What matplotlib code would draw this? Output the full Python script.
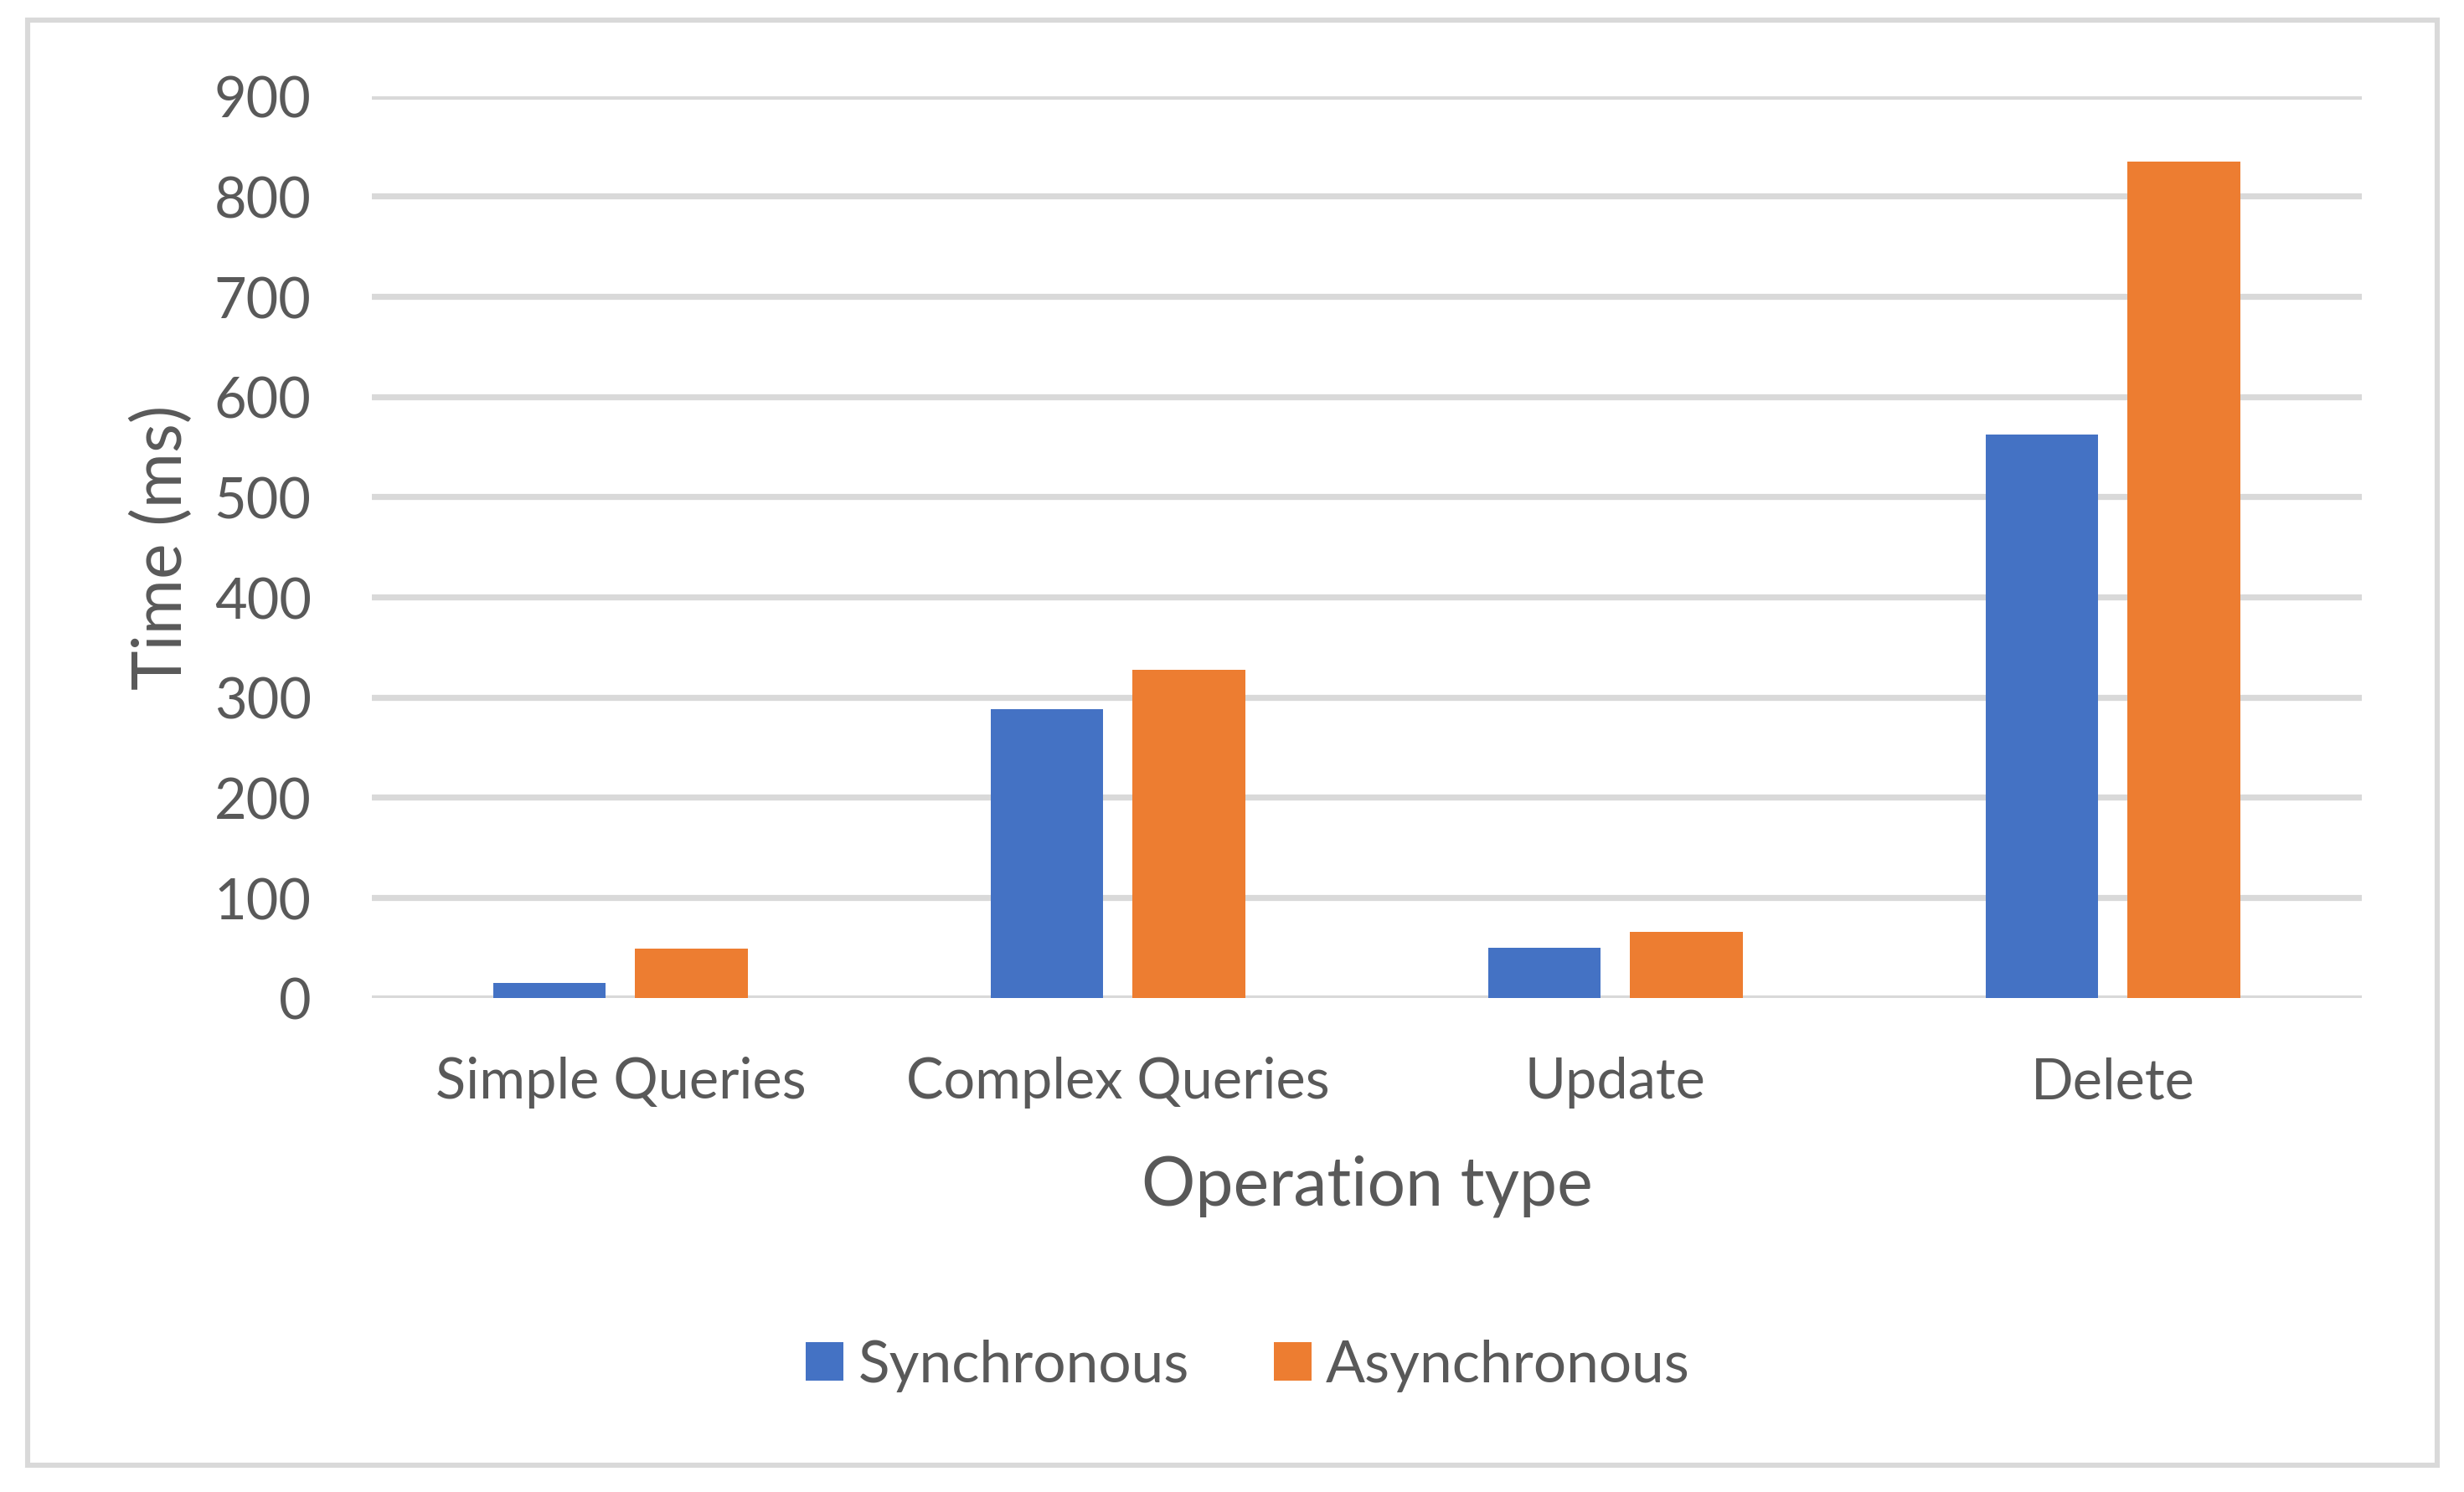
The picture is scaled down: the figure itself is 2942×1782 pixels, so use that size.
import matplotlib
matplotlib.use("Agg")
import matplotlib.pyplot as plt
import numpy as np
from matplotlib.patches import Rectangle

categories = ["Simple Queries", "Complex Queries", "Update", "Delete"]
sync_ms = [15, 288, 50, 562]
async_ms = [49, 327, 66, 835]
series_names = ["Synchronous", "Asynchronous"]
yticks = [0, 100, 200, 300, 400, 500, 600, 700, 800, 900]

plt.rcParams['font.family'] = ['Lato', 'DejaVu Sans']
txt = '#595959'
grid = '#D9D9D9'

fig = plt.figure(figsize=(14.71, 8.915), dpi=200)
ax = fig.add_axes([0.1509, 0.331, 0.8076, 0.6041])

x = np.arange(len(categories))
w = 0.227
off = 0.143
ax.bar(x - off, sync_ms, w, color='#4472C4', label=series_names[0], zorder=3)
ax.bar(x + off, async_ms, w, color='#ED7D31', label=series_names[1], zorder=3)

ax.set_xlim(-0.5, len(categories) - 0.5)
ax.set_ylim(0, 900)
ax.set_yticks(yticks)
ax.yaxis.grid(True, color=grid, linewidth=2.6, zorder=0)
ax.set_axisbelow(True)
for s in ['top', 'right', 'left', 'bottom']:
    ax.spines[s].set_visible(False)
ax.tick_params(axis='y', length=0, pad=26, labelsize=24, labelcolor=txt)
ax.tick_params(axis='x', length=0, pad=25, labelsize=24, labelcolor=txt)
ax.set_xticks(x)
ax.set_xticklabels(categories)

ax.set_xlabel("Operation type", fontsize=29, color=txt, labelpad=20)
ax.set_ylabel("Time (ms)", fontsize=29, color=txt, labelpad=9)

leg = fig.legend(loc='center', bbox_to_anchor=(1490 / 2942, 1 - 1632 / 1783),
                 ncol=2, frameon=False, fontsize=25,
                 handlelength=0.65, handleheight=0.65, handletextpad=0.25,
                 columnspacing=1.45)
for t in leg.get_texts():
    t.set_color(txt)

# outer chart border
fig.patches.append(Rectangle((33 / 2942, 1 - 1751 / 1783), (2910 - 33) / 2942, (1751 - 25) / 1783,
                             transform=fig.transFigure, fill=False,
                             edgecolor=grid, linewidth=2.2))

fig.savefig("out.png", dpi=200, facecolor='white')
